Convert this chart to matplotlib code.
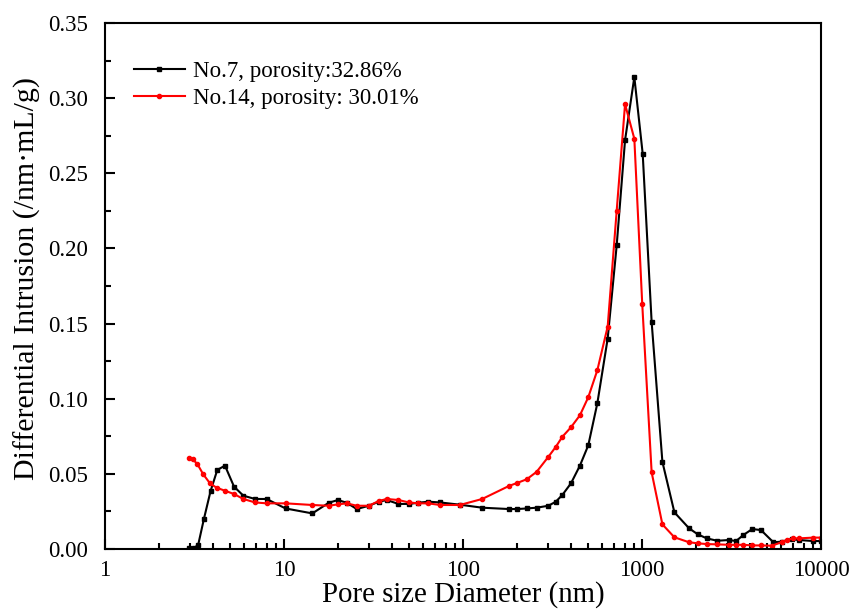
import matplotlib
matplotlib.use('Agg')
import matplotlib.pyplot as plt
from matplotlib.ticker import MultipleLocator, LogLocator, NullFormatter, FixedLocator, FixedFormatter

plt.rcParams['font.family'] = ['Liberation Serif', 'DejaVu Serif']
plt.rcParams['mathtext.fontset'] = 'stix'

# No.7 sample (black)
no7_x = [2.96, 3.15, 3.32, 3.57, 3.89, 4.24, 4.68, 5.26, 5.93, 6.89, 8.0, 10.2, 14.4, 17.8, 20.0,
         22.4, 25.5, 29.8, 33.9, 37.5, 43.6, 49.9, 56.3, 64.0, 74.4, 96.0, 128, 181, 201, 227,
         258, 300, 330, 359, 401, 450, 501, 563, 643, 722, 804, 906, 1009, 1132, 1300, 1517,
         1832, 2048, 2297, 2634, 3064, 3352, 3681, 4131, 4621, 5418, 6030, 6856, 7560, 9060, 10000]
no7_y = [0.0005, 0.0005, 0.003, 0.020, 0.0386, 0.0526, 0.0555, 0.0415, 0.0355, 0.0333, 0.0333,
         0.027, 0.0237, 0.0308, 0.0326, 0.0308, 0.0266, 0.0288, 0.0315, 0.0326, 0.030, 0.030,
         0.0308, 0.0315, 0.031, 0.0295, 0.0275, 0.0266, 0.0266, 0.027, 0.0275, 0.0288, 0.0315,
         0.036, 0.0437, 0.0555, 0.069, 0.097, 0.140, 0.202, 0.272, 0.314, 0.263, 0.151, 0.058,
         0.0244, 0.0138, 0.0098, 0.0071, 0.0055, 0.006, 0.0053, 0.0093, 0.0133, 0.0126, 0.0045,
         0.0049, 0.0065, 0.006, 0.0053, 0.0053]

# No.14 sample (red)
no14_x = [2.96, 3.09, 3.28, 3.54, 3.86, 4.20, 4.68, 5.26, 5.93, 6.89, 8.0, 10.2, 14.4, 17.8, 20.0,
          22.4, 25.5, 29.8, 33.9, 37.5, 43.6, 49.9, 56.3, 64.0, 74.4, 96.0, 128, 181, 201, 227,
          258, 300, 330, 359, 401, 450, 501, 563, 643, 722, 804, 906, 1003, 1132, 1300, 1517,
          1832, 2048, 2297, 2634, 3064, 3352, 3681, 4131, 4621, 5300, 6030, 6430, 6950, 7560,
          9060, 10000]
no14_y = [0.0604, 0.0597, 0.0566, 0.0497, 0.0437, 0.0408, 0.0388, 0.0366, 0.0333, 0.031, 0.0304,
          0.0304, 0.0293, 0.0288, 0.0297, 0.0304, 0.0288, 0.0288, 0.032, 0.0333, 0.0326, 0.031,
          0.0304, 0.0304, 0.0293, 0.0293, 0.0333, 0.042, 0.044, 0.0464, 0.0514, 0.0614, 0.068,
          0.0747, 0.081, 0.089, 0.101, 0.119, 0.148, 0.225, 0.296, 0.273, 0.163, 0.051, 0.0164,
          0.0078, 0.0045, 0.0038, 0.0033, 0.0031, 0.0028, 0.0028, 0.0028, 0.0024, 0.0024, 0.0022,
          0.0045, 0.006, 0.0071, 0.0071, 0.0076, 0.0076]

fig = plt.figure(figsize=(8.5, 6.12), dpi=100)
ax = fig.add_axes([0.1235, 0.1029, 0.8424, 0.8595])

ax.plot(no7_x, no7_y, color='black', marker='s', markersize=3, linewidth=1.5,
        label='No.7, porosity:32.86%')
ax.plot(no14_x, no14_y, color='red', marker='o', markersize=3, linewidth=1.5,
        label='No.14, porosity: 30.01%')

ax.set_xscale('log')
ax.set_xlim(1, 10000)
ax.set_ylim(0, 0.35)

ax.xaxis.set_major_locator(FixedLocator([1, 10, 100, 1000, 10000]))
ax.xaxis.set_major_formatter(FixedFormatter(['1', '10', '100', '1000', '10000']))
ax.xaxis.set_minor_locator(LogLocator(base=10, subs=range(2, 10)))
ax.xaxis.set_minor_formatter(NullFormatter())
ax.yaxis.set_major_locator(MultipleLocator(0.05))
ax.yaxis.set_minor_locator(MultipleLocator(0.025))
ax.yaxis.set_major_formatter(matplotlib.ticker.FormatStrFormatter('%.2f'))

ax.tick_params(which='both', direction='in', top=False, right=False, labelsize=16.5, width=1.5)
ax.tick_params(which='major', length=7)
ax.tick_params(which='minor', length=4)
ax.tick_params(axis='x', pad=8)
ax.tick_params(axis='y', pad=12)
for s in ax.spines.values():
    s.set_linewidth(1.5)

ax.set_xlabel('Pore size Diameter (nm)', fontsize=20.8, labelpad=0)
ax.set_ylabel('Differential Intrusion (/nm\u00b7mL/g)', fontsize=21.5)
ax.yaxis.set_label_coords(-0.09, 0.515)

ax.legend(loc='upper left', bbox_to_anchor=(0.028, 0.945), frameon=False, fontsize=16.5,
          numpoints=1, handlelength=2.2, handletextpad=0.35, labelspacing=0.25, borderaxespad=0)

fig.savefig('out.png', dpi=100)
